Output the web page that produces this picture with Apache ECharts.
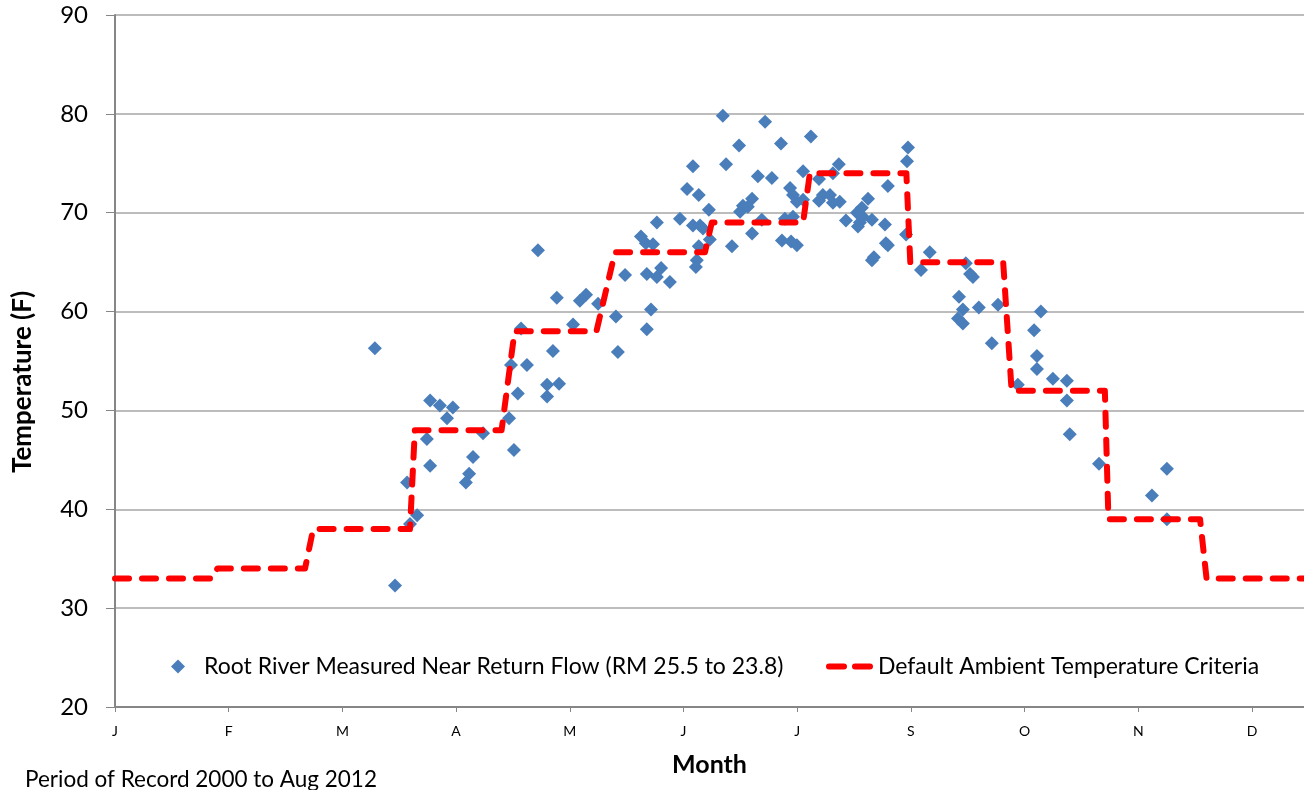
<!DOCTYPE html>
<html>
<head>
<meta charset="utf-8">
<script src="https://cdn.jsdelivr.net/npm/echarts@6/dist/echarts.min.js"></script>
<style>
html,body{margin:0;padding:0;background:#fff;}
#chart{width:1304px;height:790px;}
</style>
</head>
<body>
<div id="chart"></div>
<script>
// Month tick labels (axis ticks every 35 days from Jan 1)
const monthLabels = ['J','F','M','A','M','J','J','S','O','N','D'];

// Measured temperatures: day of year (0 = Jan 1) and temperature (F)
const measuredDay = [
  80.0, 86.2, 89.9, 90.8, 93.0, 96.0, 97.0, 97.0, 100.0, 104.0,
  102.2, 110.2, 109.0, 108.0, 113.3, 121.3, 122.8, 124.0, 121.9, 126.8,
  133.0, 133.0, 134.8, 136.7, 125.0, 130.2, 136.0, 143.1, 145.0, 148.7,
  141.0, 154.2, 154.8, 157.0, 163.7, 166.8, 168.1, 170.8, 165.0, 163.7,
  161.9, 165.6, 163.4, 166.8, 173.9, 176.1, 179.7, 177.9, 180.1, 181.0,
  179.1, 178.8, 182.8, 179.7, 187.1, 200.1, 192.1, 205.0, 214.2, 177.9,
  188.1, 197.9, 202.2, 211.8, 196.1, 193.3, 194.8, 192.4, 207.8, 208.7,
  209.9, 216.7, 216.7, 189.9, 196.1, 199.1, 206.2, 208.7, 205.3, 208.1,
  209.9, 183.1, 244.1, 243.8, 222.8, 221.0, 237.9, 211.8, 217.9, 220.1,
  221.0, 223.1, 231.8, 229.9, 228.4, 230.2, 229.3, 228.7, 233.0, 225.0,
  237.0, 237.3, 237.9, 233.6, 233.0, 243.5, 250.8, 248.1, 261.9, 263.2,
  264.1, 259.8, 261.0, 259.5, 261.0, 265.9, 271.8, 269.9, 285.0, 282.9,
  283.8, 283.8, 288.7, 293.0, 293.0, 277.9, 293.9, 302.9, 319.2, 323.8,
  323.8
];
const measuredTemp = [
  56.3, 32.3, 42.7, 38.5, 39.4, 47.1, 44.4, 51.0, 50.5, 50.3,
  49.2, 45.3, 43.6, 42.7, 47.7, 49.2, 46.0, 51.7, 54.6, 54.6,
  52.6, 51.4, 56.0, 52.7, 58.3, 66.2, 61.4, 61.1, 61.7, 60.8,
  58.7, 59.5, 55.9, 63.7, 63.8, 63.5, 64.4, 63.0, 60.2, 58.2,
  67.6, 66.8, 66.9, 69.0, 69.4, 72.4, 71.8, 68.7, 68.7, 68.4,
  65.2, 64.5, 70.3, 66.6, 79.8, 79.2, 76.8, 77.0, 77.7, 74.7,
  74.9, 73.7, 73.5, 74.2, 71.4, 70.7, 70.6, 70.1, 72.5, 71.8,
  71.1, 73.4, 71.2, 66.6, 67.9, 69.3, 69.4, 69.6, 67.2, 67.1,
  66.7, 67.3, 76.6, 75.2, 74.9, 74.0, 72.7, 71.3, 71.8, 71.8,
  71.0, 71.1, 71.4, 70.5, 70.0, 69.6, 69.0, 68.6, 69.3, 69.2,
  68.8, 66.9, 66.7, 65.5, 65.2, 67.8, 66.0, 64.2, 64.9, 63.8,
  63.5, 61.5, 60.2, 59.3, 58.8, 60.4, 60.7, 56.8, 60.0, 58.1,
  55.5, 54.2, 53.2, 53.0, 51.0, 52.6, 47.6, 44.6, 41.4, 44.1,
  39.0
];

// Default ambient temperature criteria (monthly steps)
const criteriaDay  = [0, 30, 31.5, 58.5, 61, 90.8, 92.3, 119, 123, 148.2, 153.9, 181.6, 183.7, 211.8, 213.9, 243.6, 244.8, 273.4, 276, 304.7, 305.8, 334, 336, 366];
const criteriaTemp = [33, 33, 34, 34, 38, 38, 48, 48, 58, 58, 66, 66, 69, 69, 74, 74, 65, 65, 52, 52, 39, 39, 33, 33];

const seriesNames = ['Root River Measured Near Return Flow (RM 25.5 to 23.8)', 'Default Ambient Temperature Criteria'];

const FONT = 'Lato, "Open Sans", sans-serif';

// two rounded dashes for the criteria legend icon
const dashIcon = 'path://M3,0 L18,0 A3,3 0 0 1 18,6 L3,6 A3,3 0 0 1 3,0 Z M29,0 L44,0 A3,3 0 0 1 44,6 L29,6 A3,3 0 0 1 29,0 Z';

const scatterData = measuredDay.map((d, i) => [d, measuredTemp[i]]);
const lineData = criteriaDay.map((d, i) => [d, criteriaTemp[i]]);

const chart = echarts.init(document.getElementById('chart'), null, {renderer: 'canvas'});
chart.setOption({
  animation: false,
  backgroundColor: '#ffffff',
  textStyle: {fontFamily: FONT},
  grid: {left: 115, right: 0, top: 15, bottom: 83, containLabel: false},
  xAxis: {
    type: 'value',
    min: 0,
    max: 366,
    interval: 35,
    name: 'Month',
    nameLocation: 'middle',
    nameGap: 45,
    nameTextStyle: {fontFamily: FONT, fontSize: 25, fontWeight: 'bold', color: '#000'},
    axisLine: {show: true, lineStyle: {color: '#868686', width: 2}},
    axisTick: {show: true, length: 5, lineStyle: {color: '#868686', width: 1}},
    axisLabel: {
      fontFamily: FONT, fontSize: 14, color: '#000', margin: 17,
      showMaxLabel: false,
      formatter: function (v) {
        const i = Math.round(v / 35);
        return (Math.abs(v - i * 35) < 0.01 && i < monthLabels.length) ? monthLabels[i] : '';
      }
    },
    splitLine: {show: false}
  },
  yAxis: {
    type: 'value',
    min: 20,
    max: 90,
    interval: 10,
    axisLine: {show: true, lineStyle: {color: '#868686', width: 2}},
    axisTick: {show: true, inside: false, length: 9, lineStyle: {color: '#868686', width: 1}},
    axisLabel: {fontFamily: FONT, fontSize: 24, color: '#000', margin: 27},
    splitLine: {show: true, lineStyle: {color: '#a6a6a6', width: 1.5}}
  },
  legend: [
    {
      data: [{name: seriesNames[0], icon: 'diamond'}],
      left: 171, top: 655, padding: 0,
      itemWidth: 14, itemHeight: 14,
      textStyle: {fontFamily: FONT, fontSize: 23, color: '#000', padding: [0, 0, 0, 14]},
      selectedMode: false
    },
    {
      data: [{name: seriesNames[1], icon: dashIcon}],
      left: 826, top: 655, padding: 0,
      itemWidth: 47, itemHeight: 6,
      itemStyle: {color: '#FF0000'},
      textStyle: {fontFamily: FONT, fontSize: 23, color: '#000'},
      selectedMode: false
    }
  ],
  graphic: [
    {
      type: 'text',
      x: 23, y: 382,
      rotation: Math.PI / 2,
      style: {text: 'Temperature (F)', fontFamily: FONT, fontSize: 26, fontWeight: 'bold', fill: '#000', align: 'center', verticalAlign: 'middle'}
    },
    {
      type: 'text',
      left: 25, top: 768,
      style: {text: 'Period of Record 2000 to Aug 2012', fontFamily: FONT, fontSize: 22.5, fill: '#000'}
    }
  ],
  series: [
    {
      name: seriesNames[0],
      type: 'scatter',
      symbol: 'diamond',
      symbolSize: 14,
      itemStyle: {color: '#4a7ebb', opacity: 1},
      data: scatterData,
      z: 2
    },
    {
      name: seriesNames[1],
      type: 'line',
      symbol: 'none',
      showSymbol: false,
      lineStyle: {color: '#FF0000', width: 6, type: [14, 13], cap: 'round', join: 'round'},
      itemStyle: {color: '#FF0000'},
      data: lineData,
      z: 3
    }
  ]
});
</script>
</body>
</html>
